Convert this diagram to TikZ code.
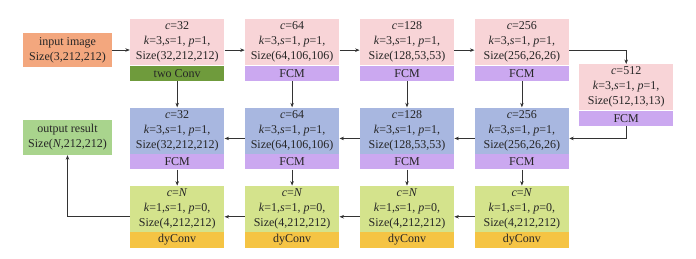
\documentclass[tikz,border=0pt]{standalone}
\usepackage{fontspec}
\setmainfont{Liberation Serif}
\usetikzlibrary{positioning,fit,arrows.meta}
\definecolor{inorange}{HTML}{F3A77E}
\definecolor{encpink}{HTML}{F8D4D7}
\definecolor{convgreen}{HTML}{6F9B3C}
\definecolor{fcmlilac}{HTML}{CBA8F0}
\definecolor{decblue}{HTML}{A8B7E0}
\definecolor{dylime}{HTML}{D4E38C}
\definecolor{dygold}{HTML}{F5C444}
\definecolor{outgreen}{HTML}{A9D48D}
\definecolor{lineink}{HTML}{333333}

\tikzset{
  cell/.style={inner sep=0pt, minimum width=94pt, align=center, text=black!85,
    font=\fontsize{12}{15}\selectfont},
  body/.style={cell, minimum height=46pt},
  bar/.style={cell, minimum height=15.5pt},
  wrap/.style={inner sep=0pt, fit=#1},
  flow/.style={-{Stealth[length=4.5pt,width=3.5pt]}, line width=0.6pt, draw=lineink}
}

\newcommand{\convtext}[4]{\textit{c}=#1\\\textit{k}=#2,\textit{s}=1, \textit{p}=#3,\\Size(#4)}

\begin{document}
\begin{tikzpicture}[x=1pt,y=-1pt]
\useasboundingbox (0,0) rectangle (696,258);

% input and output
\node[cell, fill=inorange, minimum width=89pt, minimum height=34pt] (in) at (67.5,50) {input image\\Size(3,212,212)};
\node[cell, fill=outgreen, minimum width=89pt, minimum height=35pt] (out) at (67.5,137.5) {output result\\Size(\textit{N},212,212)};

% top row
\node[body, fill=encpink, anchor=north west] (t1) at (130,19) {\convtext{32}{3}{1}{32,212,212}};
\node[bar, fill=convgreen, below=0pt of t1] (t1b) {two Conv};
\node[body, fill=encpink, right=20.5pt of t1] (t2) {\convtext{64}{3}{1}{64,106,106}};
\node[bar, fill=fcmlilac, below=0pt of t2] (t2b) {FCM};
\node[body, fill=encpink, right=20.5pt of t2] (t3) {\convtext{128}{3}{1}{128,53,53}};
\node[bar, fill=fcmlilac, below=0pt of t3] (t3b) {FCM};
\node[body, fill=encpink, right=20.5pt of t3] (t4) {\convtext{256}{3}{1}{256,26,26}};
\node[bar, fill=fcmlilac, below=0pt of t4] (t4b) {FCM};
\node[body, fill=encpink, anchor=north west] (t5) at (579,64) {\convtext{512}{3}{1}{512,13,13}};
\node[bar, fill=fcmlilac, below=0pt of t5] (t5b) {FCM};

% middle row
\node[body, fill=decblue, below=26pt of t1b] (m1) {\convtext{32}{3}{1}{32,212,212}};
\node[bar, fill=fcmlilac, below=0pt of m1] (m1b) {FCM};
\node[body, fill=decblue, below=26pt of t2b] (m2) {\convtext{64}{3}{1}{64,106,106}};
\node[bar, fill=fcmlilac, below=0pt of m2] (m2b) {FCM};
\node[body, fill=decblue, below=26pt of t3b] (m3) {\convtext{128}{3}{1}{128,53,53}};
\node[bar, fill=fcmlilac, below=0pt of m3] (m3b) {FCM};
\node[body, fill=decblue, below=26pt of t4b] (m4) {\convtext{256}{3}{1}{256,26,26}};
\node[bar, fill=fcmlilac, below=0pt of m4] (m4b) {FCM};

% bottom row
\foreach \i in {1,...,4}{
  \node[body, fill=dylime, below=16pt of m\i b] (b\i) {\textit{c}=\textit{N}\\\textit{k}=1,\textit{s}=1, \textit{p}=0,\\Size(4,212,212)};
  \node[bar, fill=dygold, below=0pt of b\i] (b\i b) {dyConv};
}

% whole blocks
\foreach \r in {t,m,b}{
  \foreach \i in {1,...,4}{
    \node[wrap=(\r\i)(\r\i b)] (\r\i w) {};
  }
}
\node[wrap=(t5)(t5b)] (t5w) {};

% connectors
\draw[flow] (in.east) -- (in.east -| t1w.west);
\draw[flow] (t1w) -- (t2w);
\draw[flow] (t2w) -- (t3w);
\draw[flow] (t3w) -- (t4w);
\draw[flow] (t4w.east) -| (t5.north);
\draw[flow] (t5b.south) |- (m4w.east);
\draw[flow] (m4w) -- (m3w);
\draw[flow] (m3w) -- (m2w);
\draw[flow] (m2w) -- (m1w);
\draw[flow] (b4w) -- (b3w);
\draw[flow] (b3w) -- (b2w);
\draw[flow] (b2w) -- (b1w);
\draw[flow] (b1w.west) -| (out.south);
\foreach \i in {1,...,4}{
  \draw[flow] (t\i b.south) -- (m\i.north);
  \draw[flow] (m\i b.south) -- (b\i.north);
}
\end{tikzpicture}
\end{document}
